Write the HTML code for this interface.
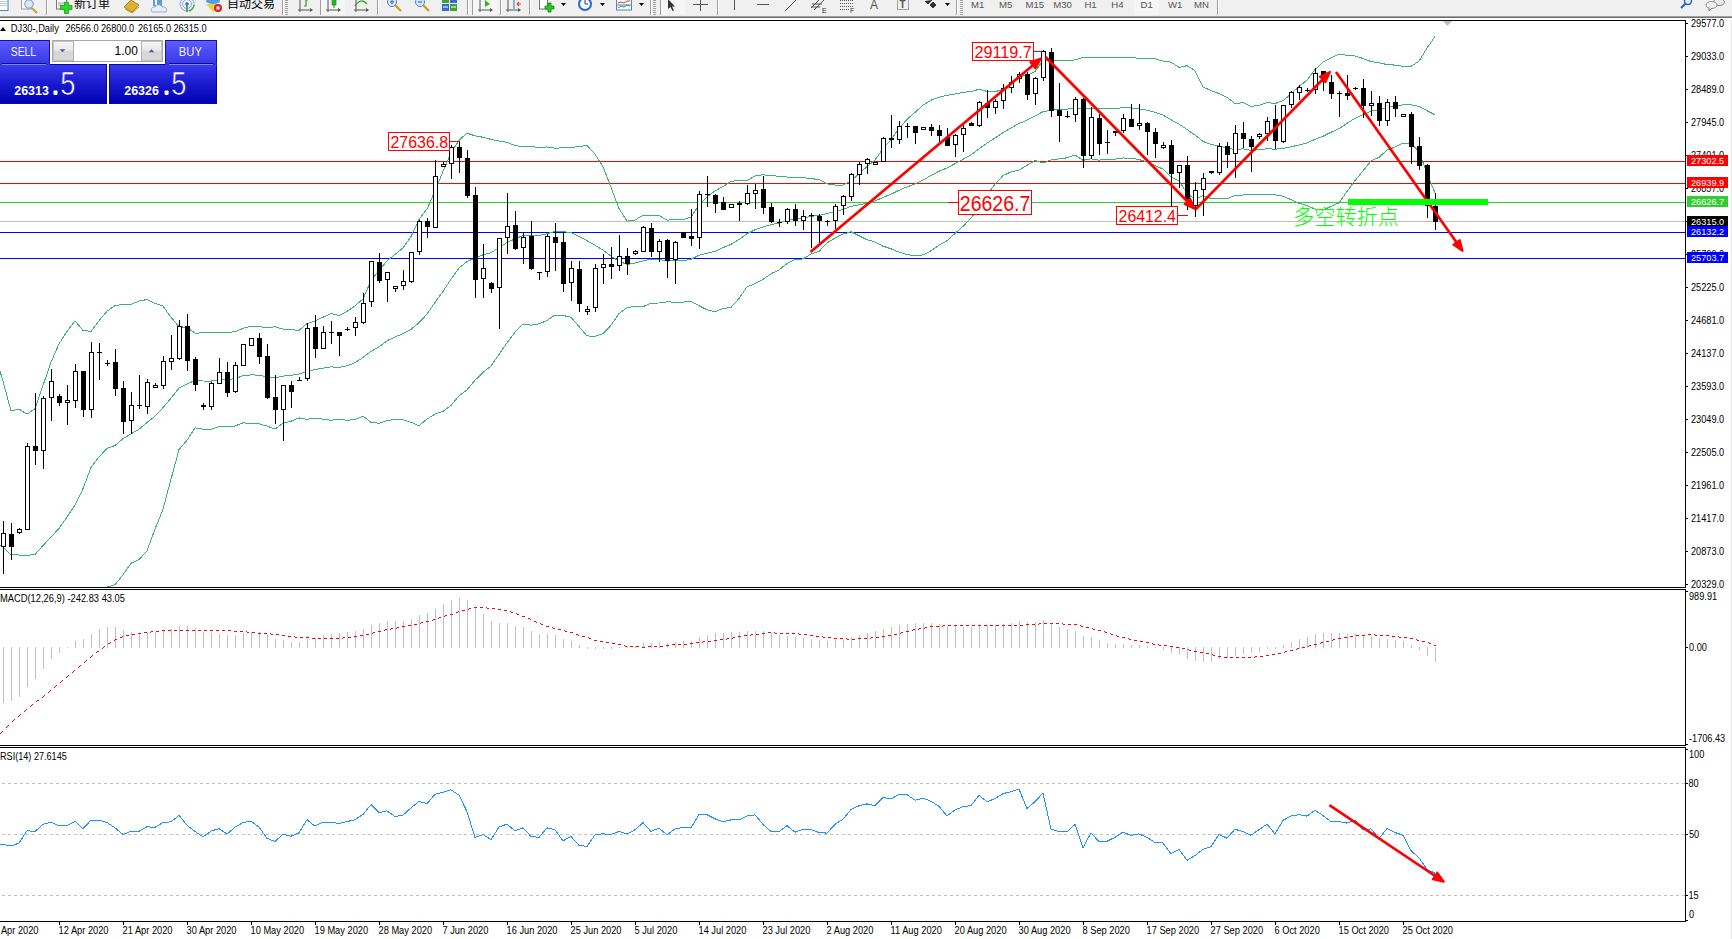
<!DOCTYPE html>
<html><head><meta charset="utf-8"><title>DJ30 Daily</title><style>
*{margin:0;padding:0;box-sizing:border-box}
html,body{width:1732px;height:939px;overflow:hidden;background:#fff}
body{position:relative;font-family:"Liberation Sans", Arial, sans-serif}
svg{position:absolute;left:0;top:0;display:block}
.tb{top:0}
.rb{position:absolute;left:1731px;top:20px;width:1px;height:919px;background:#e4e4e4}
</style></head><body>
<svg class="tb" width="1732" height="20" viewBox="0 0 1732 20">
<rect width="1732" height="16" fill="#f0f0f0"/>
<rect y="16" width="1732" height="1" fill="#a0a0a0"/><rect y="17" width="1732" height="1" fill="#6e6e6e"/><rect y="18" width="1732" height="2" fill="#fff"/>
<rect x="46" y="0" width="1" height="15" fill="#a0a0a0"/><rect x="47" y="0" width="1" height="15" fill="#fff"/>
<rect x="282" y="0" width="1" height="15" fill="#a0a0a0"/><rect x="283" y="0" width="1" height="15" fill="#fff"/>
<rect x="320" y="0" width="1" height="15" fill="#a0a0a0"/><rect x="321" y="0" width="1" height="15" fill="#fff"/>
<rect x="377" y="0" width="1" height="15" fill="#a0a0a0"/><rect x="378" y="0" width="1" height="15" fill="#fff"/>
<rect x="467" y="0" width="1" height="15" fill="#a0a0a0"/><rect x="468" y="0" width="1" height="15" fill="#fff"/>
<rect x="500" y="0" width="1" height="15" fill="#a0a0a0"/><rect x="501" y="0" width="1" height="15" fill="#fff"/>
<rect x="529" y="0" width="1" height="15" fill="#a0a0a0"/><rect x="530" y="0" width="1" height="15" fill="#fff"/>
<rect x="650" y="0" width="1" height="15" fill="#a0a0a0"/><rect x="651" y="0" width="1" height="15" fill="#fff"/>
<rect x="717" y="0" width="1" height="15" fill="#a0a0a0"/><rect x="718" y="0" width="1" height="15" fill="#fff"/>
<rect x="956" y="0" width="1" height="15" fill="#a0a0a0"/><rect x="957" y="0" width="1" height="15" fill="#fff"/>
<rect x="1217" y="0" width="1" height="15" fill="#a0a0a0"/><rect x="1218" y="0" width="1" height="15" fill="#fff"/>
<rect x="321" y="0" width="24" height="15" fill="#f6f6f6"/>
<rect x="473" y="0" width="24" height="15" fill="#f6f6f6"/>
<rect x="661" y="0" width="24" height="15" fill="#f6f6f6"/>
<rect x="1134" y="0" width="25" height="15" fill="#f6f6f6"/>
<rect x="285" y="0" width="3" height="1" fill="#a0a0a0"/><rect x="285" y="2" width="3" height="1" fill="#a0a0a0"/><rect x="285" y="4" width="3" height="1" fill="#a0a0a0"/><rect x="285" y="6" width="3" height="1" fill="#a0a0a0"/><rect x="285" y="8" width="3" height="1" fill="#a0a0a0"/><rect x="285" y="10" width="3" height="1" fill="#a0a0a0"/><rect x="285" y="12" width="3" height="1" fill="#a0a0a0"/><rect x="285" y="14" width="3" height="1" fill="#a0a0a0"/>
<rect x="653" y="0" width="3" height="1" fill="#a0a0a0"/><rect x="653" y="2" width="3" height="1" fill="#a0a0a0"/><rect x="653" y="4" width="3" height="1" fill="#a0a0a0"/><rect x="653" y="6" width="3" height="1" fill="#a0a0a0"/><rect x="653" y="8" width="3" height="1" fill="#a0a0a0"/><rect x="653" y="10" width="3" height="1" fill="#a0a0a0"/><rect x="653" y="12" width="3" height="1" fill="#a0a0a0"/><rect x="653" y="14" width="3" height="1" fill="#a0a0a0"/>
<rect x="960" y="0" width="3" height="1" fill="#a0a0a0"/><rect x="960" y="2" width="3" height="1" fill="#a0a0a0"/><rect x="960" y="4" width="3" height="1" fill="#a0a0a0"/><rect x="960" y="6" width="3" height="1" fill="#a0a0a0"/><rect x="960" y="8" width="3" height="1" fill="#a0a0a0"/><rect x="960" y="10" width="3" height="1" fill="#a0a0a0"/><rect x="960" y="12" width="3" height="1" fill="#a0a0a0"/><rect x="960" y="14" width="3" height="1" fill="#a0a0a0"/>
<rect x="472" y="0" width="1" height="15" fill="#a0a0a0"/><rect x="660" y="0" width="1" height="15" fill="#a0a0a0"/>
<rect x="-1.5" y="-3.5" width="9.5" height="14" fill="#fff" stroke="#4a7fd8"/><path d="M0 1.5H7M0 3.5H7M0 5.5H7" stroke="#a8c4f0" stroke-width="0.8"/>
<rect x="21.5" y="-3" width="10" height="12" fill="#f8f8f8" stroke="#a0a0a0"/><circle cx="29" cy="4" r="4.2" fill="#dbe8f8" stroke="#6d95d6"/><path d="M32 8L37 13" stroke="#c9a030" stroke-width="2.2"/>
<rect x="56.5" y="-3" width="10" height="12" fill="#fff" stroke="#777"/><path d="M58 3H64M58 5H63" stroke="#999"/>
<path d="M60.3 5.6h4.2v-3.4h3.9v3.4h3.6v3.8h-3.6v4.1h-3.9v-4.1h-4.2z" fill="#2ed82e" stroke="#139a13" stroke-width="0.8"/>
<text x="74" y="7.5" font-size="12" font-family="Liberation Sans, Noto Sans CJK SC, sans-serif" fill="#000">新订单</text>
<path d="M124 7L131 0L139 5L132 12z" fill="#e0b030" stroke="#a07010" stroke-width="0.8"/><path d="M125 9L132 13L139 7" stroke="#c08818" fill="none"/>
<rect x="153" y="-2" width="9" height="8" fill="#5a9ee0"/><rect x="155" y="0" width="2" height="5" fill="#fff"/><path d="M152 12h14c2-3-1-6-4-5c-1-3-6-3-7 0c-3-1-5 3-3 5z" fill="#e8eef8" stroke="#7f9ccc" stroke-width="0.8"/>
<circle cx="187" cy="4" r="7" fill="none" stroke="#6a9ae0" stroke-width="0.8"/><circle cx="187" cy="4" r="4.5" fill="none" stroke="#6a9ae0" stroke-width="0.8"/><circle cx="187" cy="4" r="1.8" fill="#3a6ad0"/><path d="M187 5V12" stroke="#2a9a2a" stroke-width="1.5"/><path d="M189 11a7 7 0 0 0 5-6" stroke="#40b040" stroke-width="1.5" fill="none"/>
<ellipse cx="213" cy="1" rx="7" ry="3" fill="#4ea0e0"/><path d="M206 4L213 12L220 4z" fill="#f0d040"/><circle cx="218" cy="8" r="4" fill="#dd2020"/><rect x="216.5" y="6.5" width="3" height="3" fill="#fff"/>
<text x="227" y="7.5" font-size="12" font-family="Liberation Sans, Noto Sans CJK SC, sans-serif" fill="#000">自动交易</text>
<path d="M300 0V12M298 10H311" stroke="#555" fill="none"/><path d="M310 8l3 2l-3 2z" fill="#555"/>
<path d="M304 6H306V0H308" stroke="#2a9a2a" fill="none" stroke-width="1.2"/>
<path d="M328 0V12M326 10H339" stroke="#555" fill="none"/><path d="M338 8l3 2l-3 2z" fill="#555"/>
<rect x="332" y="-1" width="4" height="6" fill="#22bb22" stroke="#118811" stroke-width="0.6"/><path d="M334 5V8" stroke="#118811"/>
<path d="M356 0V12M354 10H367" stroke="#555" fill="none"/><path d="M366 8l3 2l-3 2z" fill="#555"/>
<path d="M355 6Q361 -3 367 4" stroke="#2a9a2a" fill="none" stroke-width="1.2"/>
<circle cx="392" cy="2" r="4.5" fill="#d8e8fa" stroke="#4a86d0"/><path d="M390 2h4M392 0v4" stroke="#3a6ad0" stroke-width="1.2"/><path d="M395 5L401 11" stroke="#d0a020" stroke-width="2.4"/>
<circle cx="420" cy="2" r="4.5" fill="#d8e8fa" stroke="#4a86d0"/><path d="M418 2h4" stroke="#3a6ad0" stroke-width="1.2"/><path d="M423 5L429 11" stroke="#d0a020" stroke-width="2.4"/>
<rect x="442" y="-2" width="7" height="5" fill="#40a040"/><rect x="450" y="-2" width="7" height="5" fill="#3a6ad0"/><rect x="442" y="4" width="7" height="7" fill="#3a6ad0"/><rect x="450" y="4" width="7" height="7" fill="#40a040"/><path d="M443 7h5M451 7h5" stroke="#fff"/>
<path d="M480 0V12M478 10H491" stroke="#555" fill="none"/><path d="M490 8l3 2l-3 2z" fill="#555"/>
<path d="M485 0L490 4L485 7z" fill="#22bb22"/>
<path d="M508 0V12M506 10H519" stroke="#555" fill="none"/><path d="M518 8l3 2l-3 2z" fill="#555"/>
<path d="M514 -1V9" stroke="#2a6ad0"/><path d="M521 4H517M517 4l2-2M517 4l2 2" stroke="#e05010" stroke-width="1.2"/>
<rect x="539.5" y="-3" width="8" height="12" fill="#fff" stroke="#777"/><path d="M545 6h3v-3h3v3h3v3h-3v3h-3v-3h-3z" fill="#22cc22" stroke="#118811" stroke-width="0.8"/>
<path d="M561 3h5l-2.5 3z" fill="#000"/>
<path d="M600 3h5l-2.5 3z" fill="#000"/>
<path d="M639 3h5l-2.5 3z" fill="#000"/>
<path d="M945 3h5l-2.5 3z" fill="#000"/>
<circle cx="585" cy="4" r="7" fill="#2a6ad0"/><circle cx="585" cy="4" r="5" fill="#f4f8ff"/><path d="M585 0V4H588" stroke="#444" fill="none"/>
<rect x="616.5" y="-2" width="15" height="12" fill="#fff" stroke="#4a86d0"/><path d="M618 3l3-1l3 1l3-2l3 0" stroke="#c04040" fill="none"/><path d="M618 8l3-2l3 1l3-2l3 1" stroke="#30a030" fill="none"/><path d="M617 5H631" stroke="#4a86d0"/>
<path d="M668 -1L668 9L670.5 7L672.5 11L674 10.5L672 6.5L675 6.5z" fill="#333"/>
<path d="M693 4.5H708M700.5 -3V11" stroke="#555"/>
<path d="M734.5 -2V10" stroke="#555"/><path d="M757 4.5H769" stroke="#555"/><path d="M785 11L796 0" stroke="#555"/>
<path d="M811 8L821 -2M814 10L824 0M812 4H822M811 7H820" stroke="#555"/><text x="822" y="13" font-size="7" font-family="Liberation Sans, sans-serif" fill="#333">E</text>
<path d="M840 0.5H853M840 3.5H853M840 6.5H853M840 9.5H849" stroke="#555" stroke-dasharray="1 1"/><text x="850" y="13" font-size="7" font-family="Liberation Sans, sans-serif" fill="#333">F</text>
<text x="870" y="9" font-size="12" font-family="Liberation Sans, sans-serif" fill="#555">A</text>
<rect x="897.5" y="-1.5" width="11" height="11" fill="none" stroke="#555" stroke-dasharray="1 1"/><text x="899.5" y="8" font-size="10" font-weight="bold" font-family="Liberation Sans, sans-serif" fill="#555">T</text>
<path d="M925 1l3 3l4-4M930 5l3 3l3-3l-3-3z" stroke="#333" fill="#333" stroke-width="1"/>
<text x="971" y="8" font-size="9.6" font-family="Liberation Sans, sans-serif" fill="#555">M1</text>
<text x="999" y="8" font-size="9.6" font-family="Liberation Sans, sans-serif" fill="#555">M5</text>
<text x="1025.5" y="8" font-size="9.6" font-family="Liberation Sans, sans-serif" fill="#555">M15</text>
<text x="1053.3" y="8" font-size="9.6" font-family="Liberation Sans, sans-serif" fill="#555">M30</text>
<text x="1084.4" y="8" font-size="9.6" font-family="Liberation Sans, sans-serif" fill="#555">H1</text>
<text x="1111.3" y="8" font-size="9.6" font-family="Liberation Sans, sans-serif" fill="#555">H4</text>
<text x="1140.6" y="8" font-size="9.6" font-family="Liberation Sans, sans-serif" fill="#555">D1</text>
<text x="1168" y="8" font-size="9.6" font-family="Liberation Sans, sans-serif" fill="#555">W1</text>
<text x="1194" y="8" font-size="9.6" font-family="Liberation Sans, sans-serif" fill="#555">MN</text>
<circle cx="1688" cy="1" r="3.5" fill="none" stroke="#2a5ad0" stroke-width="1.4"/><path d="M1685.5 3.5L1681 8" stroke="#2a5ad0" stroke-width="2"/>
<ellipse cx="1719" cy="2" rx="5.5" ry="3.5" fill="#e8e8e8" stroke="#888"/><ellipse cx="1711.5" cy="5" rx="5.5" ry="3.5" fill="#f0f0f0" stroke="#888"/><path d="M1709 8l0 3l3-3" fill="#f0f0f0" stroke="#888"/>
</svg>
<svg class="ch" width="1732" height="939" viewBox="0 0 1732 939">
<defs><clipPath id="cm"><rect x="0" y="21" width="1685" height="566"/></clipPath><clipPath id="cd"><rect x="0" y="590" width="1685" height="155"/></clipPath><clipPath id="cr"><rect x="0" y="748" width="1685" height="173"/></clipPath></defs>
<g shape-rendering="crispEdges" stroke="#000" stroke-width="1" fill="none">
<path d="M0 20.5H1685.5V587.5H0 M0 589.5H1685.5V745.5H0 M0 747.5H1685.5V921.5H0"/>
</g>
<g shape-rendering="crispEdges" stroke-width="1">
<path d="M0 161.5H1685" stroke="#ff0000"/>
<path d="M0 183.5H1685" stroke="#ff0000"/>
<path d="M0 202.5H948" stroke="#32cd32"/><path d="M948 202.5H958" stroke="#ff0000"/><path d="M1032 202.5H1685" stroke="#32cd32"/>
<path d="M0 221.5H1685" stroke="#c0c0c0"/>
<path d="M0 232.5H1685" stroke="#0000ff"/>
<path d="M0 258.5H1685" stroke="#0000ff"/>
</g>
<g clip-path="url(#cm)" fill="none" stroke="#3cb371" stroke-width="1" shape-rendering="crispEdges">
<polyline points="-5,355 3,381 11,411 19,409.1 27,414.2 35,408.6 43,385.4 51,362.3 59,343.9 67,331.4 75,320.7 83,330.3 91,331.4 99,320.7 107,311.2 115,305.6 123,304.3 131,304.3 139,301.1 147,299.5 155,303.4 163,306.1 171,317.2 179,326.7 187,327.4 195,333.2 203,332.8 211,332.9 219,332.3 227,332.4 235,331.8 243,328.4 251,326 259,326.6 267,327.6 275,326.8 283,329 291,329.6 299,330.4 307,323.5 315,321.2 323,317.2 331,313.6 339,315.5 347,311.4 355,305.9 363,298.9 371,280.6 379,270.4 387,260.9 395,254.4 403,247.9 411,236.6 419,219.6 427,209 435,190.9 443,171.4 451,152.9 459,140.3 467,133.2 475,135.8 483,137.3 491,139.4 499,141.1 507,142.3 515,145.5 523,146.9 531,146.8 539,147.2 547,147 555,148.1 563,147.9 571,147.6 579,146.5 587,145.5 595,154.1 603,166.7 611,187.2 619,208.6 627,221.2 635,220 643,215.3 651,215.1 659,215.6 667,220.2 675,219.4 683,219.5 691,217.1 699,205 707,196.8 715,190.9 723,186.6 731,181.4 739,180.4 747,180.6 755,175.9 763,174.7 771,175.7 779,176.2 787,177 795,177.9 803,177.5 811,178.7 819,179.4 827,183.8 835,185 843,185 851,180.9 859,173.8 867,166.5 875,160.1 883,148.5 891,139.6 899,128.5 907,119.3 915,112.4 923,105.2 931,100.2 939,97.2 947,95.4 955,94.1 963,92.3 971,91.6 979,89.3 987,91.4 995,91.7 1003,89.5 1011,84 1019,77 1027,75.2 1035,71.6 1043,60.3 1051,60.5 1059,60.5 1067,60.5 1075,59.9 1083,57.5 1091,57.6 1099,57.1 1107,57.4 1115,57.5 1123,57.6 1131,57.6 1139,58.3 1147,58.5 1155,58.8 1163,61.1 1171,62.2 1179,67.4 1187,65.7 1195,70.6 1203,87.1 1211,90.5 1219,93.6 1227,97.3 1235,103.6 1243,102.6 1251,106.3 1259,105.4 1267,102.6 1275,103.5 1283,100.8 1291,93.8 1299,86.7 1307,80.1 1315,69.6 1323,62.2 1331,58 1339,54.2 1347,55.3 1355,56 1363,58.5 1371,61.6 1379,62.7 1387,64.6 1395,65.1 1403,66.4 1411,66.4 1419,61.3 1427,48.1 1435,36.4"/>
<polyline points="-5,541 3,547 11,554.7 19,555 27,555.3 35,554.5 43,545.5 51,537 59,528.5 67,517 75,504.9 83,488.6 91,467.5 99,457 107,448.3 115,445.5 123,438.7 131,434 139,429.2 147,422.5 155,416.3 163,407.7 171,398.2 179,388.1 187,383.9 195,380.6 203,381 211,381.1 219,379.6 227,379.2 235,378.9 243,375.6 251,374.9 259,375.1 267,376.9 275,377.9 283,376.1 291,375.4 299,374.1 307,371.4 315,369.6 323,368.2 331,366.9 339,367.4 347,365.8 355,362.7 363,357.5 371,351.4 379,346.8 387,340.8 395,336.9 403,333.7 411,329.4 419,322.7 427,314.1 435,302.4 443,291.4 451,279.2 459,268.1 467,261.5 475,258 483,254.8 491,252.7 499,247.7 507,242.5 515,238.9 523,235.6 531,235.9 539,235.5 547,233.7 555,231.5 563,231.7 571,232.5 579,236.6 587,240.7 595,245.2 603,250.2 611,256.2 619,261.1 627,264.5 635,263.1 643,261 651,259.1 659,259.3 667,261.1 675,260.7 683,260.8 691,259.3 699,255.3 707,253.2 715,251.3 723,247.6 731,244.4 739,239.5 747,233.7 755,229.8 763,227 771,224.7 779,223 787,220.3 795,218.8 803,218.2 811,216.4 819,215.4 827,213.4 835,211.6 843,209.5 851,206.3 859,204.8 867,203.1 875,201 883,197.4 891,194.2 899,190.3 907,186.9 915,184.1 923,180.1 931,175.5 939,171.2 947,168 955,163.7 963,159.3 971,154.8 979,148.9 987,143.2 995,138 1003,132.6 1011,128 1019,123.5 1027,120.2 1035,116.1 1043,111.7 1051,110.2 1059,109.7 1067,109.2 1075,107.5 1083,108.9 1091,108.2 1099,108.6 1107,108.4 1115,108.3 1123,107.8 1131,107.9 1139,108.9 1147,110.1 1155,112.2 1163,115.1 1171,119.7 1179,124.2 1187,129.5 1195,135.1 1203,141.4 1211,144.5 1219,146 1227,147.9 1235,149.6 1243,148.8 1251,150.3 1259,149.8 1267,148.7 1275,149.2 1283,148.5 1291,146.8 1299,145 1307,142.9 1315,139.3 1323,136.2 1331,132.2 1339,128.6 1347,123.4 1355,118.3 1363,114.7 1371,111.2 1379,110 1387,107.3 1395,106.1 1403,104.8 1411,104.8 1419,106.4 1427,110.7 1435,114.7"/>
<polyline points="-5,640 3,640 11,640 19,640 27,640 35,640 43,640 51,635 59,625 67,615 75,605 83,600 91,595 99,590 107,587 115,584.8 123,574.8 131,563.3 139,559.5 147,550.9 155,529.1 163,509.2 171,479.3 179,449.5 187,440.3 195,427.9 203,429.2 211,429.3 219,426.8 227,426 235,426 243,422.8 251,423.9 259,423.7 267,426.1 275,429 283,423.2 291,421.2 299,417.9 307,419.4 315,418.1 323,419.2 331,420.2 339,419.3 347,420.3 355,419.6 363,416.2 371,422.3 379,423.3 387,420.7 395,419.4 403,419.6 411,422.3 419,425.7 427,419.1 435,414 443,411.4 451,405.4 459,395.9 467,389.8 475,380.3 483,372.4 491,366 499,354.4 507,342.8 515,332.3 523,324.2 531,325.1 539,323.9 547,320.5 555,315 563,315.4 571,317.3 579,326.6 587,335.9 595,336.4 603,333.7 611,325.3 619,313.6 627,307.8 635,306.1 643,306.7 651,303.2 659,303 667,301.9 675,302.1 683,302.1 691,301.5 699,305.7 707,309.7 715,311.7 723,308.6 731,307.4 739,298.5 747,286.9 755,283.7 763,279.3 771,273.8 779,269.9 787,263.5 795,259.6 803,258.9 811,254 819,251.4 827,243 835,238.2 843,234.1 851,231.7 859,235.8 867,239.7 875,241.8 883,246.2 891,248.8 899,252.1 907,254.6 915,255.7 923,254.9 931,250.8 939,245.2 947,240.7 955,233.4 963,226.4 971,218.1 979,208.5 987,195.1 995,184.2 1003,175.6 1011,171.9 1019,170 1027,165.3 1035,160.5 1043,163.1 1051,159.9 1059,158.9 1067,157.8 1075,155.1 1083,160.3 1091,158.8 1099,160.1 1107,159.4 1115,159.1 1123,158 1131,158.2 1139,159.6 1147,161.7 1155,165.6 1163,169.1 1171,177.2 1179,181 1187,193.3 1195,199.5 1203,195.7 1211,198.5 1219,198.4 1227,198.6 1235,195.7 1243,195 1251,194.2 1259,194.2 1267,194.8 1275,194.8 1283,196.2 1291,199.7 1299,203.2 1307,205.6 1315,209.1 1323,210.2 1331,206.3 1339,202.9 1347,191.5 1355,180.6 1363,170.9 1371,160.9 1379,157.3 1387,150 1395,147.1 1403,143.2 1411,143.2 1419,151.6 1427,173.2 1435,193"/>
</g>
<g clip-path="url(#cm)" shape-rendering="crispEdges">
<path d="M3.5 521V574M11.5 523V560M19.5 528V534M27.5 443V530M35.5 393V465M43.5 396V469M51.5 369V421M59.5 394V406M67.5 385V425M75.5 364V408M83.5 371V417M91.5 342V418M99.5 343V380M107.5 360V366M115.5 349V396M123.5 381V434M131.5 392V434M139.5 375V409M147.5 379V414M155.5 383V388M163.5 356V389M171.5 335V370M179.5 320V360M187.5 314V371M195.5 357V391M203.5 403V410M211.5 382V410M219.5 358V384M227.5 362V397M235.5 362V393M243.5 344V366M251.5 338V346M259.5 333V364M267.5 344V399M275.5 375V424M283.5 385V441M291.5 381V408M299.5 377V381M307.5 323V381M315.5 315V358M323.5 326V349M331.5 321V344M339.5 332V356M347.5 327V331M355.5 317V336M363.5 293V324M371.5 261V307M379.5 253V283M387.5 272V302M395.5 286V292M403.5 270V290M411.5 252V283M419.5 220V255M427.5 218V238M435.5 160V228M443.5 162V167M451.5 145V179M459.5 142V173M467.5 150V198M475.5 187V298M483.5 244V298M491.5 282V293M499.5 238V329M507.5 193V254M515.5 211V250M523.5 233V264M531.5 221V270M539.5 272V280M547.5 234V277M555.5 223V271M563.5 233V292M571.5 261V301M579.5 261V312M587.5 306V315M595.5 264V312M603.5 254V284M611.5 247V279M619.5 235V271M627.5 248V275M635.5 250V255M643.5 226V252M651.5 223V257M659.5 239V262M667.5 239V278M675.5 241V284M683.5 232V238M691.5 209V246M699.5 191V249M707.5 176V207M715.5 194V213M723.5 197V210M731.5 204V208M739.5 201V221M747.5 185V205M755.5 184V209M763.5 176V214M771.5 203V223M779.5 219V227M787.5 208V224M795.5 204V226M803.5 210V230M811.5 213V248M819.5 214V243M827.5 220V226M835.5 204V229M843.5 195V215M851.5 173V201M859.5 162V185M867.5 158V174M875.5 162V163M883.5 137V162M891.5 115V148M899.5 121V144M907.5 123V138M915.5 126V144M923.5 127V130M931.5 124V136M939.5 125V142M947.5 128V146M955.5 134V157M963.5 125V152M971.5 122V126M979.5 101V127M987.5 90V118M995.5 99V114M1003.5 84V109M1011.5 76V93M1019.5 72V83M1027.5 72V100M1035.5 77V105M1043.5 50V81M1051.5 48V117M1059.5 83V142M1067.5 111V118M1075.5 97V122M1083.5 98V168M1091.5 107V159M1099.5 114V155M1107.5 130V154M1115.5 131V136M1123.5 114V133M1131.5 104V127M1139.5 104V130M1147.5 122V155M1155.5 128V158M1163.5 142V149M1171.5 140V206M1179.5 165V188M1187.5 156V210M1195.5 182V217M1203.5 173V216M1211.5 171V174M1219.5 143V175M1227.5 142V168M1235.5 125V178M1243.5 122V148M1251.5 136V172M1259.5 133V139M1267.5 117V141M1275.5 105V149M1283.5 105V143M1291.5 91V108M1299.5 85V100M1307.5 88V92M1315.5 68V94M1323.5 71V91M1331.5 75V99M1339.5 91V117M1347.5 75V100M1355.5 87V90M1363.5 79V118M1371.5 91V116M1379.5 96V126M1387.5 99V126M1395.5 96V117M1403.5 114V117M1411.5 112V164M1419.5 137V170M1427.5 164V218M1435.5 193V230" stroke="#000" fill="none"/>
<path d="M9 534h5v13h-5zM33 446h5v5h-5zM57 396h5v7h-5zM81 371h5v39h-5zM113 362h5v27h-5zM121 388h5v34h-5zM185 326h5v35h-5zM193 359h5v26h-5zM201 405h5v2h-5zM225 372h5v21h-5zM257 338h5v19h-5zM265 356h5v42h-5zM273 397h5v13h-5zM289 385h5v7h-5zM313 327h5v22h-5zM337 332h5v4h-5zM377 262h5v19h-5zM425 221h5v6h-5zM457 147h5v11h-5zM465 158h5v38h-5zM473 195h5v85h-5zM489 283h5v6h-5zM513 225h5v24h-5zM529 236h5v33h-5zM553 237h5v6h-5zM561 242h5v42h-5zM577 269h5v35h-5zM609 264h5v3h-5zM625 256h5v8h-5zM649 228h5v24h-5zM665 240h5v21h-5zM681 232h5v6h-5zM689 236h5v3h-5zM713 195h5v9h-5zM721 202h5v8h-5zM737 203h5v2h-5zM761 189h5v19h-5zM769 207h5v15h-5zM793 209h5v12h-5zM817 216h5v5h-5zM889 138h5v2h-5zM913 126h5v7h-5zM929 127h5v4h-5zM937 130h5v6h-5zM945 137h5v9h-5zM969 123h5v3h-5zM985 103h5v5h-5zM1025 74h5v21h-5zM1049 52h5v59h-5zM1057 110h5v6h-5zM1081 99h5v57h-5zM1097 118h5v26h-5zM1113 131h5v2h-5zM1129 119h5v8h-5zM1145 123h5v9h-5zM1153 132h5v12h-5zM1169 145h5v29h-5zM1185 165h5v34h-5zM1209 171h5v2h-5zM1225 146h5v9h-5zM1241 133h5v6h-5zM1249 139h5v8h-5zM1273 119h5v22h-5zM1321 71h5v11h-5zM1329 82h5v12h-5zM1345 93h5v3h-5zM1361 88h5v18h-5zM1377 103h5v18h-5zM1393 102h5v7h-5zM1409 114h5v33h-5zM1417 146h5v20h-5zM1425 165h5v41h-5zM1433 206h5v16h-5z" fill="#000"/>
<path d="M97 352.5H102M105 363.5H110M137 405.5H142M297 380.5H302M329 332.5H334M345 329.5H350M537 272.5H542M705 194.5H710M777 222.5H782M809 215.5H814M825 221.5H830M905 126.5H910M1065 116.5H1070M1105 142.5H1110M1305 90.5H1310M1337 93.5H1342M1353 88.5H1358" stroke="#000" fill="none"/>
<rect x="1.5" y="533.5" width="4" height="13" fill="#fff" stroke="#000"/>
<rect x="17.5" y="529.5" width="4" height="3" fill="#fff" stroke="#000"/>
<rect x="25.5" y="446.5" width="4" height="83" fill="#fff" stroke="#000"/>
<rect x="41.5" y="398.5" width="4" height="52" fill="#fff" stroke="#000"/>
<rect x="49.5" y="381.5" width="4" height="16" fill="#fff" stroke="#000"/>
<rect x="65.5" y="400.5" width="4" height="2" fill="#fff" stroke="#000"/>
<rect x="73.5" y="371.5" width="4" height="29" fill="#fff" stroke="#000"/>
<rect x="89.5" y="352.5" width="4" height="57" fill="#fff" stroke="#000"/>
<rect x="129.5" y="405.5" width="4" height="15" fill="#fff" stroke="#000"/>
<rect x="145.5" y="382.5" width="4" height="24" fill="#fff" stroke="#000"/>
<rect x="153.5" y="385.5" width="4" height="2" fill="#fff" stroke="#000"/>
<rect x="161.5" y="361.5" width="4" height="24" fill="#fff" stroke="#000"/>
<rect x="169.5" y="358.5" width="4" height="3" fill="#fff" stroke="#000"/>
<rect x="177.5" y="326.5" width="4" height="32" fill="#fff" stroke="#000"/>
<rect x="209.5" y="383.5" width="4" height="23" fill="#fff" stroke="#000"/>
<rect x="217.5" y="372.5" width="4" height="11" fill="#fff" stroke="#000"/>
<rect x="233.5" y="365.5" width="4" height="26" fill="#fff" stroke="#000"/>
<rect x="241.5" y="344.5" width="4" height="21" fill="#fff" stroke="#000"/>
<rect x="249.5" y="338.5" width="4" height="7" fill="#fff" stroke="#000"/>
<rect x="281.5" y="385.5" width="4" height="24" fill="#fff" stroke="#000"/>
<rect x="305.5" y="328.5" width="4" height="50" fill="#fff" stroke="#000"/>
<rect x="321.5" y="332.5" width="4" height="16" fill="#fff" stroke="#000"/>
<rect x="353.5" y="322.5" width="4" height="5" fill="#fff" stroke="#000"/>
<rect x="361.5" y="303.5" width="4" height="19" fill="#fff" stroke="#000"/>
<rect x="369.5" y="261.5" width="4" height="40" fill="#fff" stroke="#000"/>
<rect x="385.5" y="272.5" width="4" height="7" fill="#fff" stroke="#000"/>
<rect x="393.5" y="286.5" width="4" height="2" fill="#fff" stroke="#000"/>
<rect x="401.5" y="281.5" width="4" height="4" fill="#fff" stroke="#000"/>
<rect x="409.5" y="252.5" width="4" height="29" fill="#fff" stroke="#000"/>
<rect x="417.5" y="221.5" width="4" height="30" fill="#fff" stroke="#000"/>
<rect x="433.5" y="176.5" width="4" height="51" fill="#fff" stroke="#000"/>
<rect x="441.5" y="164.5" width="4" height="2" fill="#fff" stroke="#000"/>
<rect x="449.5" y="147.5" width="4" height="16" fill="#fff" stroke="#000"/>
<rect x="481.5" y="268.5" width="4" height="10" fill="#fff" stroke="#000"/>
<rect x="497.5" y="238.5" width="4" height="49" fill="#fff" stroke="#000"/>
<rect x="505.5" y="226.5" width="4" height="11" fill="#fff" stroke="#000"/>
<rect x="521.5" y="237.5" width="4" height="10" fill="#fff" stroke="#000"/>
<rect x="545.5" y="236.5" width="4" height="35" fill="#fff" stroke="#000"/>
<rect x="569.5" y="268.5" width="4" height="14" fill="#fff" stroke="#000"/>
<rect x="585.5" y="309.5" width="4" height="2" fill="#fff" stroke="#000"/>
<rect x="593.5" y="268.5" width="4" height="39" fill="#fff" stroke="#000"/>
<rect x="601.5" y="264.5" width="4" height="3" fill="#fff" stroke="#000"/>
<rect x="617.5" y="256.5" width="4" height="9" fill="#fff" stroke="#000"/>
<rect x="633.5" y="251.5" width="4" height="2" fill="#fff" stroke="#000"/>
<rect x="641.5" y="227.5" width="4" height="24" fill="#fff" stroke="#000"/>
<rect x="657.5" y="241.5" width="4" height="10" fill="#fff" stroke="#000"/>
<rect x="673.5" y="242.5" width="4" height="17" fill="#fff" stroke="#000"/>
<rect x="697.5" y="194.5" width="4" height="43" fill="#fff" stroke="#000"/>
<rect x="729.5" y="204.5" width="4" height="3" fill="#fff" stroke="#000"/>
<rect x="745.5" y="193.5" width="4" height="10" fill="#fff" stroke="#000"/>
<rect x="753.5" y="190.5" width="4" height="3" fill="#fff" stroke="#000"/>
<rect x="785.5" y="209.5" width="4" height="12" fill="#fff" stroke="#000"/>
<rect x="801.5" y="216.5" width="4" height="4" fill="#fff" stroke="#000"/>
<rect x="833.5" y="206.5" width="4" height="14" fill="#fff" stroke="#000"/>
<rect x="841.5" y="196.5" width="4" height="9" fill="#fff" stroke="#000"/>
<rect x="849.5" y="174.5" width="4" height="22" fill="#fff" stroke="#000"/>
<rect x="857.5" y="164.5" width="4" height="10" fill="#fff" stroke="#000"/>
<rect x="865.5" y="159.5" width="4" height="4" fill="#fff" stroke="#000"/>
<rect x="873.5" y="162.5" width="4" height="2" fill="#fff" stroke="#000"/>
<rect x="881.5" y="138.5" width="4" height="23" fill="#fff" stroke="#000"/>
<rect x="897.5" y="126.5" width="4" height="13" fill="#fff" stroke="#000"/>
<rect x="921.5" y="127.5" width="4" height="2" fill="#fff" stroke="#000"/>
<rect x="953.5" y="135.5" width="4" height="9" fill="#fff" stroke="#000"/>
<rect x="961.5" y="128.5" width="4" height="6" fill="#fff" stroke="#000"/>
<rect x="977.5" y="102.5" width="4" height="23" fill="#fff" stroke="#000"/>
<rect x="993.5" y="101.5" width="4" height="6" fill="#fff" stroke="#000"/>
<rect x="1001.5" y="88.5" width="4" height="12" fill="#fff" stroke="#000"/>
<rect x="1009.5" y="82.5" width="4" height="5" fill="#fff" stroke="#000"/>
<rect x="1017.5" y="74.5" width="4" height="4" fill="#fff" stroke="#000"/>
<rect x="1033.5" y="78.5" width="4" height="15" fill="#fff" stroke="#000"/>
<rect x="1041.5" y="51.5" width="4" height="26" fill="#fff" stroke="#000"/>
<rect x="1073.5" y="99.5" width="4" height="15" fill="#fff" stroke="#000"/>
<rect x="1089.5" y="117.5" width="4" height="38" fill="#fff" stroke="#000"/>
<rect x="1121.5" y="118.5" width="4" height="12" fill="#fff" stroke="#000"/>
<rect x="1137.5" y="123.5" width="4" height="2" fill="#fff" stroke="#000"/>
<rect x="1161.5" y="145.5" width="4" height="2" fill="#fff" stroke="#000"/>
<rect x="1177.5" y="165.5" width="4" height="7" fill="#fff" stroke="#000"/>
<rect x="1193.5" y="190.5" width="4" height="15" fill="#fff" stroke="#000"/>
<rect x="1201.5" y="178.5" width="4" height="11" fill="#fff" stroke="#000"/>
<rect x="1217.5" y="146.5" width="4" height="26" fill="#fff" stroke="#000"/>
<rect x="1233.5" y="133.5" width="4" height="20" fill="#fff" stroke="#000"/>
<rect x="1257.5" y="134.5" width="4" height="2" fill="#fff" stroke="#000"/>
<rect x="1265.5" y="121.5" width="4" height="12" fill="#fff" stroke="#000"/>
<rect x="1281.5" y="105.5" width="4" height="36" fill="#fff" stroke="#000"/>
<rect x="1289.5" y="92.5" width="4" height="12" fill="#fff" stroke="#000"/>
<rect x="1297.5" y="87.5" width="4" height="5" fill="#fff" stroke="#000"/>
<rect x="1313.5" y="73.5" width="4" height="16" fill="#fff" stroke="#000"/>
<rect x="1369.5" y="103.5" width="4" height="2" fill="#fff" stroke="#000"/>
<rect x="1385.5" y="102.5" width="4" height="18" fill="#fff" stroke="#000"/>
<rect x="1401.5" y="114.5" width="4" height="2" fill="#fff" stroke="#000"/>
</g>
<g clip-path="url(#cd)" shape-rendering="crispEdges">
<path d="M3.5 647V703M11.5 647V701M19.5 647V697M27.5 647V687M35.5 647V679M43.5 647V669M51.5 647V659M59.5 647V653M67.5 647V648M75.5 641V648M83.5 639V648M91.5 634V648M99.5 629V648M107.5 627V648M115.5 627V648M123.5 630V648M131.5 632V648M139.5 633V648M147.5 632V648M155.5 632V648M163.5 630V648M171.5 629V648M179.5 626V648M187.5 626V648M195.5 628V648M203.5 632V648M211.5 633V648M219.5 634V648M227.5 635V648M235.5 635V648M243.5 633V648M251.5 632V648M259.5 632V648M267.5 635V648M275.5 639V648M283.5 640V648M291.5 642V648M299.5 642V648M307.5 639V648M315.5 638V648M323.5 635V648M331.5 634V648M339.5 633V648M347.5 632V648M355.5 631V648M363.5 629V648M371.5 625V648M379.5 623V648M387.5 621V648M395.5 621V648M403.5 621V648M411.5 619V648M419.5 615V648M427.5 613V648M435.5 609V648M443.5 604V648M451.5 600V648M459.5 598V648M467.5 600V648M475.5 608V648M483.5 614V648M491.5 621V648M499.5 623V648M507.5 623V648M515.5 626V648M523.5 627V648M531.5 631V648M539.5 634V648M547.5 634V648M555.5 635V648M563.5 639V648M571.5 641V648M579.5 645V648M587.5 647V649M595.5 647V649M603.5 647V649M611.5 647V649M619.5 647V648M627.5 647V648M635.5 646V648M643.5 643V648M651.5 643V648M659.5 642V648M667.5 643V648M675.5 642V648M683.5 641V648M691.5 641V648M699.5 637V648M707.5 635V648M715.5 633V648M723.5 633V648M731.5 632V648M739.5 632V648M747.5 631V648M755.5 631V648M763.5 631V648M771.5 633V648M779.5 635V648M787.5 636V648M795.5 637V648M803.5 638V648M811.5 639V648M819.5 640V648M827.5 641V648M835.5 640V648M843.5 640V648M851.5 637V648M859.5 635V648M867.5 633V648M875.5 631V648M883.5 629V648M891.5 627V648M899.5 625V648M907.5 624V648M915.5 623V648M923.5 623V648M931.5 623V648M939.5 624V648M947.5 626V648M955.5 626V648M963.5 627V648M971.5 627V648M979.5 626V648M987.5 625V648M995.5 625V648M1003.5 624V648M1011.5 623V648M1019.5 621V648M1027.5 622V648M1035.5 622V648M1043.5 620V648M1051.5 624V648M1059.5 627V648M1067.5 629V648M1075.5 631V648M1083.5 636V648M1091.5 637V648M1099.5 640V648M1107.5 643V648M1115.5 644V648M1123.5 644V648M1131.5 645V648M1139.5 645V648M1147.5 646V648M1155.5 647V648M1163.5 647V650M1171.5 647V653M1179.5 647V655M1187.5 647V659M1195.5 647V661M1203.5 647V662M1211.5 647V662M1219.5 647V659M1227.5 647V658M1235.5 647V656M1243.5 647V654M1251.5 647V653M1259.5 647V652M1267.5 647V649M1275.5 647V649M1283.5 645V648M1291.5 642V648M1299.5 639V648M1307.5 637V648M1315.5 634V648M1323.5 633V648M1331.5 633V648M1339.5 633V648M1347.5 634V648M1355.5 634V648M1363.5 635V648M1371.5 636V648M1379.5 638V648M1387.5 639V648M1395.5 640V648M1403.5 641V648M1411.5 645V648M1419.5 647V650M1427.5 647V656M1435.5 647V662" stroke="#c0c0c0" fill="none"/>
<path d="M0 733h1v1h-1zM1 732h1v1h-1zM2 731h1v1h-1zM6 727h1v1h-1zM7 726h1v1h-1zM8 725h1v1h-1zM12 721h1v1h-1zM13 720h1v1h-1zM14 719h1v1h-1zM18 716h1v1h-1zM19 715h1v1h-1zM20 714h1v1h-1zM24 711h1v1h-1zM25 710h1v1h-1zM26 709h1v1h-1zM30 706h1v1h-1zM31 705h1v1h-1zM32 704h1v1h-1zM36 701h1v1h-1zM37 700h1v1h-1zM38 700h1v1h-1zM42 697h1v1h-1zM43 696h1v1h-1zM44 695h1v1h-1zM48 692h1v1h-1zM49 691h1v1h-1zM50 690h1v1h-1zM54 687h1v1h-1zM55 686h1v1h-1zM56 685h1v1h-1zM60 682h1v1h-1zM61 681h1v1h-1zM62 680h1v1h-1zM66 677h1v1h-1zM67 676h1v1h-1zM68 675h1v1h-1zM72 672h1v1h-1zM73 671h1v1h-1zM74 670h1v1h-1zM78 667h1v1h-1zM79 666h1v1h-1zM80 665h1v1h-1zM84 662h1v1h-1zM85 661h1v1h-1zM86 660h1v1h-1zM90 657h1v1h-1zM91 656h1v1h-1zM92 655h1v1h-1zM96 652h1v1h-1zM97 651h1v1h-1zM98 651h1v1h-1zM102 648h1v1h-1zM103 647h1v1h-1zM104 646h1v1h-1zM108 643h1v1h-1zM109 643h1v1h-1zM110 642h1v1h-1zM114 640h1v1h-1zM115 639h1v1h-1zM116 639h1v1h-1zM120 637h1v1h-1zM121 637h1v1h-1zM122 636h1v1h-1zM126 635h1v1h-1zM127 635h1v1h-1zM128 635h1v1h-1zM132 634h1v1h-1zM133 634h1v1h-1zM134 634h1v1h-1zM138 633h1v1h-1zM139 633h1v1h-1zM140 633h1v1h-1zM144 632h1v1h-1zM145 632h1v1h-1zM146 632h1v1h-1zM150 632h1v1h-1zM151 631h1v1h-1zM152 631h1v1h-1zM156 631h1v1h-1zM157 631h1v1h-1zM158 631h1v1h-1zM162 630h1v1h-1zM163 630h1v1h-1zM164 630h1v1h-1zM168 630h1v1h-1zM169 630h1v1h-1zM170 630h1v1h-1zM174 630h1v1h-1zM175 630h1v1h-1zM176 630h1v1h-1zM180 630h1v1h-1zM181 630h1v1h-1zM182 630h1v1h-1zM186 630h1v1h-1zM187 630h1v1h-1zM188 630h1v1h-1zM192 630h1v1h-1zM193 630h1v1h-1zM194 630h1v1h-1zM198 630h1v1h-1zM199 630h1v1h-1zM200 630h1v1h-1zM204 630h1v1h-1zM205 630h1v1h-1zM206 630h1v1h-1zM210 630h1v1h-1zM211 630h1v1h-1zM212 630h1v1h-1zM216 630h1v1h-1zM217 630h1v1h-1zM218 630h1v1h-1zM222 630h1v1h-1zM223 630h1v1h-1zM224 630h1v1h-1zM228 630h1v1h-1zM229 630h1v1h-1zM230 630h1v1h-1zM234 631h1v1h-1zM235 631h1v1h-1zM236 631h1v1h-1zM240 631h1v1h-1zM241 631h1v1h-1zM242 631h1v1h-1zM246 631h1v1h-1zM247 632h1v1h-1zM248 632h1v1h-1zM252 632h1v1h-1zM253 632h1v1h-1zM254 632h1v1h-1zM258 633h1v1h-1zM259 633h1v1h-1zM260 633h1v1h-1zM264 633h1v1h-1zM265 633h1v1h-1zM266 633h1v1h-1zM270 633h1v1h-1zM271 634h1v1h-1zM272 634h1v1h-1zM276 634h1v1h-1zM277 634h1v1h-1zM278 634h1v1h-1zM282 635h1v1h-1zM283 635h1v1h-1zM284 635h1v1h-1zM288 636h1v1h-1zM289 636h1v1h-1zM290 636h1v1h-1zM294 636h1v1h-1zM295 637h1v1h-1zM296 637h1v1h-1zM300 637h1v1h-1zM301 637h1v1h-1zM302 637h1v1h-1zM306 637h1v1h-1zM307 637h1v1h-1zM308 637h1v1h-1zM312 638h1v1h-1zM313 638h1v1h-1zM314 638h1v1h-1zM318 638h1v1h-1zM319 638h1v1h-1zM320 638h1v1h-1zM324 638h1v1h-1zM325 638h1v1h-1zM326 638h1v1h-1zM330 638h1v1h-1zM331 638h1v1h-1zM332 638h1v1h-1zM336 638h1v1h-1zM337 638h1v1h-1zM338 638h1v1h-1zM342 638h1v1h-1zM343 637h1v1h-1zM344 637h1v1h-1zM348 637h1v1h-1zM349 637h1v1h-1zM350 637h1v1h-1zM354 636h1v1h-1zM355 636h1v1h-1zM356 636h1v1h-1zM360 635h1v1h-1zM361 635h1v1h-1zM362 635h1v1h-1zM366 634h1v1h-1zM367 634h1v1h-1zM368 634h1v1h-1zM372 633h1v1h-1zM373 632h1v1h-1zM374 632h1v1h-1zM378 631h1v1h-1zM379 631h1v1h-1zM380 631h1v1h-1zM384 630h1v1h-1zM385 629h1v1h-1zM386 629h1v1h-1zM390 629h1v1h-1zM391 628h1v1h-1zM392 628h1v1h-1zM396 628h1v1h-1zM397 627h1v1h-1zM398 627h1v1h-1zM402 626h1v1h-1zM403 626h1v1h-1zM404 626h1v1h-1zM408 625h1v1h-1zM409 625h1v1h-1zM410 625h1v1h-1zM414 624h1v1h-1zM415 624h1v1h-1zM416 624h1v1h-1zM420 623h1v1h-1zM421 622h1v1h-1zM422 622h1v1h-1zM426 621h1v1h-1zM427 621h1v1h-1zM428 621h1v1h-1zM432 620h1v1h-1zM433 619h1v1h-1zM434 619h1v1h-1zM438 618h1v1h-1zM439 617h1v1h-1zM440 617h1v1h-1zM444 616h1v1h-1zM445 615h1v1h-1zM446 615h1v1h-1zM450 614h1v1h-1zM451 614h1v1h-1zM452 614h1v1h-1zM456 612h1v1h-1zM457 612h1v1h-1zM458 611h1v1h-1zM462 610h1v1h-1zM463 610h1v1h-1zM464 610h1v1h-1zM468 609h1v1h-1zM469 608h1v1h-1zM470 608h1v1h-1zM474 607h1v1h-1zM475 607h1v1h-1zM476 607h1v1h-1zM480 607h1v1h-1zM481 607h1v1h-1zM482 607h1v1h-1zM486 607h1v1h-1zM487 608h1v1h-1zM488 608h1v1h-1zM492 608h1v1h-1zM493 608h1v1h-1zM494 608h1v1h-1zM498 609h1v1h-1zM499 609h1v1h-1zM500 609h1v1h-1zM504 610h1v1h-1zM505 610h1v1h-1zM506 610h1v1h-1zM510 611h1v1h-1zM511 612h1v1h-1zM512 612h1v1h-1zM516 613h1v1h-1zM517 614h1v1h-1zM518 614h1v1h-1zM522 616h1v1h-1zM523 616h1v1h-1zM524 616h1v1h-1zM528 618h1v1h-1zM529 618h1v1h-1zM530 619h1v1h-1zM534 621h1v1h-1zM535 621h1v1h-1zM536 622h1v1h-1zM540 623h1v1h-1zM541 624h1v1h-1zM542 624h1v1h-1zM546 626h1v1h-1zM547 626h1v1h-1zM548 626h1v1h-1zM552 627h1v1h-1zM553 628h1v1h-1zM554 628h1v1h-1zM558 629h1v1h-1zM559 629h1v1h-1zM560 629h1v1h-1zM564 630h1v1h-1zM565 631h1v1h-1zM566 631h1v1h-1zM570 632h1v1h-1zM571 632h1v1h-1zM572 632h1v1h-1zM576 634h1v1h-1zM577 634h1v1h-1zM578 635h1v1h-1zM582 636h1v1h-1zM583 636h1v1h-1zM584 636h1v1h-1zM588 637h1v1h-1zM589 638h1v1h-1zM590 638h1v1h-1zM594 640h1v1h-1zM595 640h1v1h-1zM596 640h1v1h-1zM600 641h1v1h-1zM601 641h1v1h-1zM602 641h1v1h-1zM606 642h1v1h-1zM607 642h1v1h-1zM608 642h1v1h-1zM612 643h1v1h-1zM613 643h1v1h-1zM614 643h1v1h-1zM618 644h1v1h-1zM619 644h1v1h-1zM620 644h1v1h-1zM624 645h1v1h-1zM625 646h1v1h-1zM626 646h1v1h-1zM630 646h1v1h-1zM631 646h1v1h-1zM632 646h1v1h-1zM636 646h1v1h-1zM637 646h1v1h-1zM638 646h1v1h-1zM642 647h1v1h-1zM643 647h1v1h-1zM644 647h1v1h-1zM648 646h1v1h-1zM649 646h1v1h-1zM650 646h1v1h-1zM654 646h1v1h-1zM655 646h1v1h-1zM656 646h1v1h-1zM660 646h1v1h-1zM661 646h1v1h-1zM662 646h1v1h-1zM666 645h1v1h-1zM667 645h1v1h-1zM668 645h1v1h-1zM672 644h1v1h-1zM673 644h1v1h-1zM674 644h1v1h-1zM678 644h1v1h-1zM679 644h1v1h-1zM680 644h1v1h-1zM684 644h1v1h-1zM685 644h1v1h-1zM686 644h1v1h-1zM690 643h1v1h-1zM691 643h1v1h-1zM692 643h1v1h-1zM696 642h1v1h-1zM697 642h1v1h-1zM698 642h1v1h-1zM702 642h1v1h-1zM703 641h1v1h-1zM704 641h1v1h-1zM708 641h1v1h-1zM709 641h1v1h-1zM710 641h1v1h-1zM714 640h1v1h-1zM715 640h1v1h-1zM716 640h1v1h-1zM720 639h1v1h-1zM721 639h1v1h-1zM722 639h1v1h-1zM726 639h1v1h-1zM727 638h1v1h-1zM728 638h1v1h-1zM732 638h1v1h-1zM733 637h1v1h-1zM734 637h1v1h-1zM738 636h1v1h-1zM739 636h1v1h-1zM740 636h1v1h-1zM744 635h1v1h-1zM745 635h1v1h-1zM746 635h1v1h-1zM750 635h1v1h-1zM751 634h1v1h-1zM752 634h1v1h-1zM756 634h1v1h-1zM757 634h1v1h-1zM758 634h1v1h-1zM762 633h1v1h-1zM763 633h1v1h-1zM764 633h1v1h-1zM768 632h1v1h-1zM769 632h1v1h-1zM770 632h1v1h-1zM774 632h1v1h-1zM775 633h1v1h-1zM776 633h1v1h-1zM780 633h1v1h-1zM781 633h1v1h-1zM782 633h1v1h-1zM786 633h1v1h-1zM787 633h1v1h-1zM788 633h1v1h-1zM792 633h1v1h-1zM793 633h1v1h-1zM794 633h1v1h-1zM798 633h1v1h-1zM799 634h1v1h-1zM800 634h1v1h-1zM804 634h1v1h-1zM805 634h1v1h-1zM806 634h1v1h-1zM810 635h1v1h-1zM811 635h1v1h-1zM812 635h1v1h-1zM816 636h1v1h-1zM817 636h1v1h-1zM818 636h1v1h-1zM822 636h1v1h-1zM823 637h1v1h-1zM824 637h1v1h-1zM828 637h1v1h-1zM829 637h1v1h-1zM830 637h1v1h-1zM834 638h1v1h-1zM835 638h1v1h-1zM836 638h1v1h-1zM840 638h1v1h-1zM841 638h1v1h-1zM842 638h1v1h-1zM846 638h1v1h-1zM847 639h1v1h-1zM848 639h1v1h-1zM852 639h1v1h-1zM853 639h1v1h-1zM854 639h1v1h-1zM858 638h1v1h-1zM859 638h1v1h-1zM860 638h1v1h-1zM864 638h1v1h-1zM865 638h1v1h-1zM866 638h1v1h-1zM870 638h1v1h-1zM871 637h1v1h-1zM872 637h1v1h-1zM876 637h1v1h-1zM877 637h1v1h-1zM878 637h1v1h-1zM882 636h1v1h-1zM883 636h1v1h-1zM884 636h1v1h-1zM888 635h1v1h-1zM889 635h1v1h-1zM890 635h1v1h-1zM894 634h1v1h-1zM895 634h1v1h-1zM896 634h1v1h-1zM900 633h1v1h-1zM901 632h1v1h-1zM902 632h1v1h-1zM906 631h1v1h-1zM907 631h1v1h-1zM908 631h1v1h-1zM912 630h1v1h-1zM913 629h1v1h-1zM914 629h1v1h-1zM918 629h1v1h-1zM919 628h1v1h-1zM920 628h1v1h-1zM924 628h1v1h-1zM925 627h1v1h-1zM926 627h1v1h-1zM930 626h1v1h-1zM931 626h1v1h-1zM932 626h1v1h-1zM936 626h1v1h-1zM937 626h1v1h-1zM938 626h1v1h-1zM942 626h1v1h-1zM943 625h1v1h-1zM944 625h1v1h-1zM948 625h1v1h-1zM949 625h1v1h-1zM950 625h1v1h-1zM954 625h1v1h-1zM955 625h1v1h-1zM956 625h1v1h-1zM960 625h1v1h-1zM961 625h1v1h-1zM962 625h1v1h-1zM966 625h1v1h-1zM967 625h1v1h-1zM968 625h1v1h-1zM972 625h1v1h-1zM973 625h1v1h-1zM974 625h1v1h-1zM978 625h1v1h-1zM979 625h1v1h-1zM980 625h1v1h-1zM984 625h1v1h-1zM985 625h1v1h-1zM986 625h1v1h-1zM990 625h1v1h-1zM991 625h1v1h-1zM992 625h1v1h-1zM996 625h1v1h-1zM997 625h1v1h-1zM998 625h1v1h-1zM1002 625h1v1h-1zM1003 625h1v1h-1zM1004 625h1v1h-1zM1008 625h1v1h-1zM1009 625h1v1h-1zM1010 625h1v1h-1zM1014 625h1v1h-1zM1015 625h1v1h-1zM1016 625h1v1h-1zM1020 625h1v1h-1zM1021 625h1v1h-1zM1022 625h1v1h-1zM1026 624h1v1h-1zM1027 624h1v1h-1zM1028 624h1v1h-1zM1032 624h1v1h-1zM1033 624h1v1h-1zM1034 624h1v1h-1zM1038 624h1v1h-1zM1039 623h1v1h-1zM1040 623h1v1h-1zM1044 623h1v1h-1zM1045 623h1v1h-1zM1046 623h1v1h-1zM1050 623h1v1h-1zM1051 623h1v1h-1zM1052 623h1v1h-1zM1056 623h1v1h-1zM1057 623h1v1h-1zM1058 623h1v1h-1zM1062 623h1v1h-1zM1063 624h1v1h-1zM1064 624h1v1h-1zM1068 624h1v1h-1zM1069 624h1v1h-1zM1070 624h1v1h-1zM1074 624h1v1h-1zM1075 624h1v1h-1zM1076 624h1v1h-1zM1080 625h1v1h-1zM1081 626h1v1h-1zM1082 626h1v1h-1zM1086 627h1v1h-1zM1087 627h1v1h-1zM1088 627h1v1h-1zM1092 628h1v1h-1zM1093 629h1v1h-1zM1094 629h1v1h-1zM1098 630h1v1h-1zM1099 630h1v1h-1zM1100 630h1v1h-1zM1104 631h1v1h-1zM1105 632h1v1h-1zM1106 632h1v1h-1zM1110 633h1v1h-1zM1111 634h1v1h-1zM1112 634h1v1h-1zM1116 635h1v1h-1zM1117 636h1v1h-1zM1118 636h1v1h-1zM1122 637h1v1h-1zM1123 637h1v1h-1zM1124 637h1v1h-1zM1128 638h1v1h-1zM1129 639h1v1h-1zM1130 639h1v1h-1zM1134 640h1v1h-1zM1135 640h1v1h-1zM1136 640h1v1h-1zM1140 641h1v1h-1zM1141 641h1v1h-1zM1142 641h1v1h-1zM1146 642h1v1h-1zM1147 642h1v1h-1zM1148 642h1v1h-1zM1152 643h1v1h-1zM1153 644h1v1h-1zM1154 644h1v1h-1zM1158 644h1v1h-1zM1159 645h1v1h-1zM1160 645h1v1h-1zM1164 645h1v1h-1zM1165 645h1v1h-1zM1166 645h1v1h-1zM1170 646h1v1h-1zM1171 646h1v1h-1zM1172 646h1v1h-1zM1176 647h1v1h-1zM1177 647h1v1h-1zM1178 647h1v1h-1zM1182 648h1v1h-1zM1183 648h1v1h-1zM1184 648h1v1h-1zM1188 649h1v1h-1zM1189 650h1v1h-1zM1190 650h1v1h-1zM1194 651h1v1h-1zM1195 651h1v1h-1zM1196 651h1v1h-1zM1200 652h1v1h-1zM1201 652h1v1h-1zM1202 652h1v1h-1zM1206 653h1v1h-1zM1207 653h1v1h-1zM1208 653h1v1h-1zM1212 654h1v1h-1zM1213 655h1v1h-1zM1214 655h1v1h-1zM1218 656h1v1h-1zM1219 656h1v1h-1zM1220 656h1v1h-1zM1224 657h1v1h-1zM1225 657h1v1h-1zM1226 657h1v1h-1zM1230 657h1v1h-1zM1231 657h1v1h-1zM1232 657h1v1h-1zM1236 657h1v1h-1zM1237 657h1v1h-1zM1238 657h1v1h-1zM1242 657h1v1h-1zM1243 657h1v1h-1zM1244 657h1v1h-1zM1248 657h1v1h-1zM1249 657h1v1h-1zM1250 657h1v1h-1zM1254 657h1v1h-1zM1255 656h1v1h-1zM1256 656h1v1h-1zM1260 656h1v1h-1zM1261 656h1v1h-1zM1262 656h1v1h-1zM1266 655h1v1h-1zM1267 655h1v1h-1zM1268 655h1v1h-1zM1272 654h1v1h-1zM1273 654h1v1h-1zM1274 654h1v1h-1zM1278 653h1v1h-1zM1279 653h1v1h-1zM1280 653h1v1h-1zM1284 652h1v1h-1zM1285 651h1v1h-1zM1286 651h1v1h-1zM1290 650h1v1h-1zM1291 650h1v1h-1zM1292 650h1v1h-1zM1296 649h1v1h-1zM1297 648h1v1h-1zM1298 648h1v1h-1zM1302 647h1v1h-1zM1303 647h1v1h-1zM1304 647h1v1h-1zM1308 646h1v1h-1zM1309 645h1v1h-1zM1310 645h1v1h-1zM1314 644h1v1h-1zM1315 644h1v1h-1zM1316 644h1v1h-1zM1320 643h1v1h-1zM1321 642h1v1h-1zM1322 642h1v1h-1zM1326 641h1v1h-1zM1327 641h1v1h-1zM1328 641h1v1h-1zM1332 640h1v1h-1zM1333 639h1v1h-1zM1334 639h1v1h-1zM1338 638h1v1h-1zM1339 638h1v1h-1zM1340 638h1v1h-1zM1344 637h1v1h-1zM1345 637h1v1h-1zM1346 637h1v1h-1zM1350 636h1v1h-1zM1351 636h1v1h-1zM1352 636h1v1h-1zM1356 635h1v1h-1zM1357 635h1v1h-1zM1358 635h1v1h-1zM1362 635h1v1h-1zM1363 635h1v1h-1zM1364 635h1v1h-1zM1368 634h1v1h-1zM1369 634h1v1h-1zM1370 634h1v1h-1zM1374 634h1v1h-1zM1375 635h1v1h-1zM1376 635h1v1h-1zM1380 635h1v1h-1zM1381 635h1v1h-1zM1382 635h1v1h-1zM1386 635h1v1h-1zM1387 635h1v1h-1zM1388 635h1v1h-1zM1392 636h1v1h-1zM1393 636h1v1h-1zM1394 636h1v1h-1zM1398 636h1v1h-1zM1399 637h1v1h-1zM1400 637h1v1h-1zM1404 637h1v1h-1zM1405 637h1v1h-1zM1406 637h1v1h-1zM1410 638h1v1h-1zM1411 638h1v1h-1zM1412 638h1v1h-1zM1416 639h1v1h-1zM1417 640h1v1h-1zM1418 640h1v1h-1zM1422 641h1v1h-1zM1423 641h1v1h-1zM1424 641h1v1h-1zM1428 642h1v1h-1zM1429 643h1v1h-1zM1430 643h1v1h-1zM1434 645h1v1h-1zM1435 645h1v1h-1z" fill="#ff0000"/>
</g>
<g shape-rendering="crispEdges" stroke="#c0c0c0" stroke-dasharray="3 3">
<path d="M2 783.5H1685"/>
<path d="M2 834.5H1685"/>
<path d="M2 895.5H1685"/>
</g>
<g clip-path="url(#cr)" shape-rendering="crispEdges">
<polyline points="-5,845.5 3,844.3 11,846 19,843.1 27,830.7 35,831.5 43,824.3 51,822.2 59,825.9 67,825.5 75,821.3 83,828.7 91,820.2 99,820.2 107,822.5 115,827.9 123,834.5 131,831.3 139,831.3 147,826.7 155,827.4 163,822.4 171,821.9 179,815.4 187,825.2 195,831.4 203,836.9 211,831.1 219,828.6 227,834.1 235,827.2 243,822.5 251,821.1 259,827 267,838.4 275,841.3 283,834.4 291,836.2 299,832.8 307,819.7 315,826.2 323,822.1 331,822.2 339,823.6 347,821.6 355,819.7 363,814.4 371,804.7 379,812.7 387,810.8 395,816.6 403,815.2 411,807.9 419,801.3 427,803.7 435,794.3 443,792.4 451,789.8 459,795.1 467,811.6 475,837.5 483,834.5 491,839.7 499,826.9 507,824.2 515,830.7 523,827.8 531,836.4 539,837.4 547,827.9 555,829.7 563,840.8 571,836.5 579,845.3 587,846.5 595,834.8 603,833.8 611,834.5 619,831.4 627,833.9 635,829.8 643,822.7 651,831.4 659,828.1 667,834.9 675,828.9 683,827.5 691,827.9 699,814.6 707,814.7 715,818.8 723,821.7 731,819.9 739,820 747,816 755,814.8 763,824.5 771,831.5 779,831.7 787,825.7 795,832.2 803,829.4 811,829.6 819,832.6 827,833.1 835,824.3 843,819.2 851,809.5 859,805.8 867,803.9 875,805.7 883,797.3 891,799.1 899,794.4 907,794.7 915,800.2 923,798.2 931,801.3 939,806.4 947,816 955,809.9 963,806.7 971,805.5 979,795.4 987,801.7 995,798.7 1003,793.6 1011,791.7 1019,789.1 1027,808.5 1035,801.7 1043,793 1051,829.2 1059,831.6 1067,831.7 1075,824.4 1083,847.7 1091,832.8 1099,841.7 1107,841.2 1115,837.4 1123,832 1131,835.5 1139,833.9 1147,837.4 1155,842.4 1163,843 1171,853.7 1179,849.3 1187,860.3 1195,855.6 1203,849.2 1211,846.7 1219,834.5 1227,838.2 1235,829.2 1243,831.7 1251,835.2 1259,829.7 1267,824.1 1275,834 1283,820.3 1291,816.1 1299,814.6 1307,816.1 1315,810.3 1323,815.5 1331,821.8 1339,821.6 1347,823.1 1355,819.9 1363,830 1371,828.9 1379,838.4 1387,828.6 1395,832.5 1403,835.2 1411,850.7 1419,857.8 1427,869.5 1435,873.2" fill="none" stroke="#1e90ff"/>
</g>
<g>
<path d="M810.5 252L1034.4 64" stroke="#ff0000" stroke-width="2.7" fill="none"/><path d="M1040.9 58.5L1035.5 68.4L1030.3 62.2z" fill="#ff0000" stroke="#ff0000" stroke-width="2" stroke-linejoin="round"/>
<path d="M1045.5 57L1188.7 202.8" stroke="#ff0000" stroke-width="2.7" fill="none"/><path d="M1194.7 208.9L1184.5 204.2L1190.2 198.6z" fill="#ff0000" stroke="#ff0000" stroke-width="2" stroke-linejoin="round"/>
<path d="M1195.4 209.6L1324.1 78" stroke="#ff0000" stroke-width="2.7" fill="none"/><path d="M1330 71.9L1325.5 82.2L1319.8 76.6z" fill="#ff0000" stroke="#ff0000" stroke-width="2" stroke-linejoin="round"/>
<path d="M1336 72L1457.7 244" stroke="#ff0000" stroke-width="2.7" fill="none"/><path d="M1462.6 251L1453.3 244.7L1459.8 240.1z" fill="#ff0000" stroke="#ff0000" stroke-width="2" stroke-linejoin="round"/>
<path d="M1329.4 805.1L1436.7 877" stroke="#ff0000" stroke-width="2.7" fill="none"/><path d="M1443.8 881.7L1432.8 879.2L1437.3 872.6z" fill="#ff0000" stroke="#ff0000" stroke-width="2" stroke-linejoin="round"/>
</g>
<rect x="1348" y="199" width="140" height="6" fill="#00ff00"/>
<g shape-rendering="crispEdges" stroke="#ff0000"><path d="M449 141.5H460M1033 51.5H1042M1177 215.5H1188"/></g>
<rect x="388.5" y="132.5" width="61" height="18" fill="#fff" stroke="#ff0000" shape-rendering="crispEdges"/><text x="390.5" y="148" font-size="16" fill="#ff0000" textLength="57.5" lengthAdjust="spacingAndGlyphs" font-family="Liberation Sans, Arial, sans-serif">27636.8</text>
<rect x="972.5" y="42.5" width="61" height="18" fill="#fff" stroke="#ff0000" shape-rendering="crispEdges"/><text x="974.4" y="58" font-size="16" fill="#ff0000" textLength="57.5" lengthAdjust="spacingAndGlyphs" font-family="Liberation Sans, Arial, sans-serif">29119.7</text>
<rect x="958.5" y="190.5" width="73" height="24" fill="#fff" stroke="#ff0000" shape-rendering="crispEdges"/><text x="959.8" y="210.8" font-size="21.5" fill="#ff0000" textLength="70.5" lengthAdjust="spacingAndGlyphs" font-family="Liberation Sans, Arial, sans-serif">26626.7</text>
<rect x="1116.5" y="206.5" width="61" height="18" fill="#fff" stroke="#ff0000" shape-rendering="crispEdges"/><text x="1118.6" y="222" font-size="16" fill="#ff0000" textLength="57.3" lengthAdjust="spacingAndGlyphs" font-family="Liberation Sans, Arial, sans-serif">26412.4</text>
<text x="1293" y="224" font-size="21" font-weight="300" fill="#00ff00" font-family="Liberation Sans, Noto Sans CJK SC, sans-serif" textLength="106" lengthAdjust="spacingAndGlyphs">多空转折点</text>
<g shape-rendering="crispEdges" stroke="#000"><path d="
M1685 23.5H1688M1685 56.5H1688M1685 89.5H1688M1685 122.5H1688M1685 155.5H1688M1685 188.5H1688M1685 221.5H1688M1685 254.5H1688M1685 287.5H1688M1685 320.5H1688M1685 353.5H1688M1685 386.5H1688M1685 419.5H1688M1685 452.5H1688M1685 485.5H1688M1685 518.5H1688M1685 551.5H1688M1685 584.5H1688M1685 591.5H1688M1685 647.5H1688M1685 744.5H1688M1685 749.5H1688M1685 783.5H1688M1685 834.5H1688M1685 895.5H1688M1685 920.5H1688"/></g>
<g font-family="Liberation Sans, Arial, sans-serif" fill="#000">
<text x="1691" y="26.8" font-size="10" textLength="33.2" lengthAdjust="spacingAndGlyphs">29577.0</text>
<text x="1691" y="59.8" font-size="10" textLength="33.2" lengthAdjust="spacingAndGlyphs">29033.0</text>
<text x="1691" y="92.8" font-size="10" textLength="33.2" lengthAdjust="spacingAndGlyphs">28489.0</text>
<text x="1691" y="125.8" font-size="10" textLength="33.2" lengthAdjust="spacingAndGlyphs">27945.0</text>
<text x="1691" y="158.8" font-size="10" textLength="33.2" lengthAdjust="spacingAndGlyphs">27401.0</text>
<text x="1691" y="191.8" font-size="10" textLength="33.2" lengthAdjust="spacingAndGlyphs">26857.0</text>
<text x="1691" y="224.8" font-size="10" textLength="33.2" lengthAdjust="spacingAndGlyphs">26313.0</text>
<text x="1691" y="257.8" font-size="10" textLength="33.2" lengthAdjust="spacingAndGlyphs">25769.0</text>
<text x="1691" y="290.8" font-size="10" textLength="33.2" lengthAdjust="spacingAndGlyphs">25225.0</text>
<text x="1691" y="323.8" font-size="10" textLength="33.2" lengthAdjust="spacingAndGlyphs">24681.0</text>
<text x="1691" y="356.8" font-size="10" textLength="33.2" lengthAdjust="spacingAndGlyphs">24137.0</text>
<text x="1691" y="389.8" font-size="10" textLength="33.2" lengthAdjust="spacingAndGlyphs">23593.0</text>
<text x="1691" y="422.8" font-size="10" textLength="33.2" lengthAdjust="spacingAndGlyphs">23049.0</text>
<text x="1691" y="455.8" font-size="10" textLength="33.2" lengthAdjust="spacingAndGlyphs">22505.0</text>
<text x="1691" y="488.8" font-size="10" textLength="33.2" lengthAdjust="spacingAndGlyphs">21961.0</text>
<text x="1691" y="521.8" font-size="10" textLength="33.2" lengthAdjust="spacingAndGlyphs">21417.0</text>
<text x="1691" y="554.8" font-size="10" textLength="33.2" lengthAdjust="spacingAndGlyphs">20873.0</text>
<text x="1691" y="587.8" font-size="10" textLength="33.2" lengthAdjust="spacingAndGlyphs">20329.0</text>
<text x="1689" y="600" font-size="10" textLength="28.1" lengthAdjust="spacingAndGlyphs">989.91</text><text x="1689" y="651" font-size="10" textLength="17.9" lengthAdjust="spacingAndGlyphs">0.00</text><text x="1689" y="742" font-size="10" textLength="36.2" lengthAdjust="spacingAndGlyphs">-1706.43</text>
<text x="1689" y="758" font-size="10" textLength="15.3" lengthAdjust="spacingAndGlyphs">100</text><text x="1688.5" y="787" font-size="10" textLength="10.2" lengthAdjust="spacingAndGlyphs">80</text><text x="1689" y="838" font-size="10" textLength="10.2" lengthAdjust="spacingAndGlyphs">50</text><text x="1688.5" y="898.5" font-size="10" textLength="10.2" lengthAdjust="spacingAndGlyphs">15</text><text x="1689" y="918" font-size="10" textLength="5.1" lengthAdjust="spacingAndGlyphs">0</text>
</g>
<rect x="1687" y="155" width="41" height="11" fill="#ff0000"/><g fill="#fff" font-family="Liberation Sans, Arial, sans-serif"><text x="1691" y="164" font-size="9.2" textLength="33.2" lengthAdjust="spacingAndGlyphs">27302.5</text></g>
<rect x="1687" y="177" width="41" height="11" fill="#ff0000"/><g fill="#fff" font-family="Liberation Sans, Arial, sans-serif"><text x="1691" y="186" font-size="9.2" textLength="33.2" lengthAdjust="spacingAndGlyphs">26939.9</text></g>
<rect x="1687" y="196" width="41" height="11" fill="#32cd32"/><g fill="#fff" font-family="Liberation Sans, Arial, sans-serif"><text x="1691" y="205" font-size="9.2" textLength="33.2" lengthAdjust="spacingAndGlyphs">26626.7</text></g>
<rect x="1687" y="216" width="41" height="11" fill="#000000"/><g fill="#fff" font-family="Liberation Sans, Arial, sans-serif"><text x="1691" y="225" font-size="9.2" textLength="33.2" lengthAdjust="spacingAndGlyphs">26315.0</text></g>
<rect x="1687" y="226" width="41" height="11" fill="#0000ff"/><g fill="#fff" font-family="Liberation Sans, Arial, sans-serif"><text x="1691" y="235" font-size="9.2" textLength="33.2" lengthAdjust="spacingAndGlyphs">26132.2</text></g>
<rect x="1687" y="252" width="41" height="11" fill="#0000ff"/><g fill="#fff" font-family="Liberation Sans, Arial, sans-serif"><text x="1691" y="261" font-size="9.2" textLength="33.2" lengthAdjust="spacingAndGlyphs">25703.7</text></g>
<g font-family="Liberation Sans, Arial, sans-serif" fill="#000"><text x="10.8" y="32" font-size="10" textLength="48" lengthAdjust="spacingAndGlyphs">DJ30-,Daily</text><text x="65.4" y="32" font-size="10" textLength="33.2" lengthAdjust="spacingAndGlyphs">26566.0</text><text x="101" y="32" font-size="10" textLength="33.2" lengthAdjust="spacingAndGlyphs">26800.0</text><text x="137.9" y="32" font-size="10" textLength="33.2" lengthAdjust="spacingAndGlyphs">26165.0</text><text x="173.4" y="32" font-size="10" textLength="33.2" lengthAdjust="spacingAndGlyphs">26315.0</text></g>
<path d="M0 31L3 27L6 31z" fill="#000"/>
<g font-family="Liberation Sans, Arial, sans-serif" fill="#000"><text x="0" y="601.8" font-size="10" textLength="125" lengthAdjust="spacingAndGlyphs">MACD(12,26,9) -242.83 43.05</text></g>
<g font-family="Liberation Sans, Arial, sans-serif" fill="#000"><text x="0" y="760" font-size="10" textLength="66.8" lengthAdjust="spacingAndGlyphs">RSI(14) 27.6145</text></g>
<g shape-rendering="crispEdges" stroke="#000"><path d="M59.5 922V925M123.5 922V925M187.5 922V925M251.5 922V925M315.5 922V925M379.5 922V925M443.5 922V925M507.5 922V925M571.5 922V925M635.5 922V925M699.5 922V925M763.5 922V925M827.5 922V925M891.5 922V925M955.5 922V925M1019.5 922V925M1083.5 922V925M1147.5 922V925M1211.5 922V925M1275.5 922V925M1339.5 922V925M1403.5 922V925"/></g>
<g font-family="Liberation Sans, Arial, sans-serif" fill="#000">
<text x="-6.3" y="934" font-size="10" textLength="44.8" lengthAdjust="spacingAndGlyphs">3 Apr 2020</text>
<text x="58.5" y="934" font-size="10" textLength="50" lengthAdjust="spacingAndGlyphs">12 Apr 2020</text>
<text x="122.5" y="934" font-size="10" textLength="50" lengthAdjust="spacingAndGlyphs">21 Apr 2020</text>
<text x="186.5" y="934" font-size="10" textLength="50" lengthAdjust="spacingAndGlyphs">30 Apr 2020</text>
<text x="250.5" y="934" font-size="10" textLength="53.6" lengthAdjust="spacingAndGlyphs">10 May 2020</text>
<text x="314.5" y="934" font-size="10" textLength="53.6" lengthAdjust="spacingAndGlyphs">19 May 2020</text>
<text x="378.5" y="934" font-size="10" textLength="53.6" lengthAdjust="spacingAndGlyphs">28 May 2020</text>
<text x="442.5" y="934" font-size="10" textLength="45.9" lengthAdjust="spacingAndGlyphs">7 Jun 2020</text>
<text x="506.5" y="934" font-size="10" textLength="51" lengthAdjust="spacingAndGlyphs">16 Jun 2020</text>
<text x="570.5" y="934" font-size="10" textLength="51" lengthAdjust="spacingAndGlyphs">25 Jun 2020</text>
<text x="634.5" y="934" font-size="10" textLength="42.8" lengthAdjust="spacingAndGlyphs">5 Jul 2020</text>
<text x="698.5" y="934" font-size="10" textLength="47.9" lengthAdjust="spacingAndGlyphs">14 Jul 2020</text>
<text x="762.5" y="934" font-size="10" textLength="47.9" lengthAdjust="spacingAndGlyphs">23 Jul 2020</text>
<text x="826.5" y="934" font-size="10" textLength="46.9" lengthAdjust="spacingAndGlyphs">2 Aug 2020</text>
<text x="890.5" y="934" font-size="10" textLength="51.4" lengthAdjust="spacingAndGlyphs">11 Aug 2020</text>
<text x="954.5" y="934" font-size="10" textLength="52.1" lengthAdjust="spacingAndGlyphs">20 Aug 2020</text>
<text x="1018.5" y="934" font-size="10" textLength="52.1" lengthAdjust="spacingAndGlyphs">30 Aug 2020</text>
<text x="1082.5" y="934" font-size="10" textLength="47.4" lengthAdjust="spacingAndGlyphs">8 Sep 2020</text>
<text x="1146.5" y="934" font-size="10" textLength="52.6" lengthAdjust="spacingAndGlyphs">17 Sep 2020</text>
<text x="1210.5" y="934" font-size="10" textLength="52.6" lengthAdjust="spacingAndGlyphs">27 Sep 2020</text>
<text x="1274.5" y="934" font-size="10" textLength="45.3" lengthAdjust="spacingAndGlyphs">6 Oct 2020</text>
<text x="1338.5" y="934" font-size="10" textLength="50.5" lengthAdjust="spacingAndGlyphs">15 Oct 2020</text>
<text x="1402.5" y="934" font-size="10" textLength="50.5" lengthAdjust="spacingAndGlyphs">25 Oct 2020</text>
</g>
<path d="M1443 21H1452L1447.5 26z" fill="#c0c0c0"/>
</svg>

<svg class="tpsvg" width="217" height="64" viewBox="0 40 217 64" style="top:40px">
<defs>
<linearGradient id="gt" x1="0" y1="0" x2="0" y2="1"><stop offset="0" stop-color="#5c5cff"/><stop offset="1" stop-color="#3636e6"/></linearGradient>
<linearGradient id="gb" x1="0" y1="0" x2="0" y2="1"><stop offset="0" stop-color="#3a3af0"/><stop offset="0.45" stop-color="#1c1cd0"/><stop offset="1" stop-color="#0000b4"/></linearGradient>
<linearGradient id="gbu" gradientUnits="userSpaceOnUse" x1="0" y1="65" x2="0" y2="103"><stop offset="0" stop-color="#3a3af0"/><stop offset="0.45" stop-color="#1c1cd0"/><stop offset="1" stop-color="#0000b4"/></linearGradient>
<linearGradient id="gbtn" x1="0" y1="0" x2="0" y2="1"><stop offset="0" stop-color="#f6f6f6"/><stop offset="0.45" stop-color="#e8e8e8"/><stop offset="0.55" stop-color="#d6d6d6"/><stop offset="1" stop-color="#d8d8d8"/></linearGradient>
</defs>
<g shape-rendering="crispEdges">
<rect x="0" y="40" width="50" height="25" fill="#1010b0"/><rect x="0" y="41" width="49" height="24" fill="url(#gt)"/>
<rect x="165" y="40" width="52" height="25" fill="#1010b0"/><rect x="166" y="41" width="50" height="24" fill="url(#gt)"/>
<rect x="0" y="64" width="107" height="40" fill="#0808a0"/><rect x="0" y="65" width="106" height="38" fill="url(#gb)"/>
<rect x="109" y="64" width="108" height="40" fill="#0808a0"/><rect x="110" y="65" width="106" height="38" fill="url(#gb)"/>
<rect x="50" y="40" width="115" height="24" fill="#fff"/>
<rect x="0" y="63" width="50" height="2" fill="#2c2ce0"/>
<rect x="2" y="63" width="44" height="1" fill="#0a0a90"/><rect x="2" y="64" width="44" height="1" fill="#8484ff"/>
<rect x="165" y="63" width="52" height="2" fill="#2c2ce0"/>
<rect x="169" y="63" width="44" height="1" fill="#0a0a90"/><rect x="169" y="64" width="44" height="1" fill="#8484ff"/>
<rect x="52.5" y="40.5" width="110" height="21" fill="#fff" stroke="#a8a8a8"/>
<rect x="53.5" y="41.5" width="20" height="19" fill="url(#gbtn)" stroke="#c4c4c4"/>
<rect x="141.5" y="41.5" width="20" height="19" fill="url(#gbtn)" stroke="#c4c4c4"/>
<path d="M73.5 41V61M141.5 41V61" stroke="#b0b0b0"/>
</g>
<path d="M59.7 49.3h5.6l-2.8 2.9z" fill="#4a5aa8"/>
<path d="M148.7 52.2h5.6l-2.8-2.9z" fill="#4a5aa8"/>
<g font-family="Liberation Sans, Arial, sans-serif" fill="#f2f2ff">
<text x="10.8" y="56" font-size="12.3" textLength="25.3" lengthAdjust="spacingAndGlyphs">SELL</text>
<text x="178.8" y="56" font-size="12.3" textLength="23.1" lengthAdjust="spacingAndGlyphs">BUY</text>
</g>
<text x="114.5" y="55" font-size="12.6" font-family="Liberation Sans, Arial, sans-serif" fill="#000" textLength="23.3" lengthAdjust="spacingAndGlyphs">1.00</text>
<g font-family="Liberation Sans, Arial, sans-serif" fill="#fff">
<text x="14.3" y="95" font-size="12.2" font-weight="bold" textLength="34.5" lengthAdjust="spacingAndGlyphs">26313</text>
<rect x="53.5" y="90.5" width="4" height="4.4" rx="0.8"/>
<text x="60.3" y="95" font-size="34" textLength="15.2" lengthAdjust="spacingAndGlyphs" stroke="url(#gbu)" stroke-width="0.7">5</text>
<text x="124.3" y="95" font-size="12.2" font-weight="bold" textLength="34.5" lengthAdjust="spacingAndGlyphs">26326</text>
<rect x="164.6" y="90.5" width="4" height="4.4" rx="0.8"/>
<text x="171.2" y="95" font-size="34" textLength="15.2" lengthAdjust="spacingAndGlyphs" stroke="url(#gbu)" stroke-width="0.7">5</text>
</g>
</svg>
<div class="rb"></div>
</body></html>
